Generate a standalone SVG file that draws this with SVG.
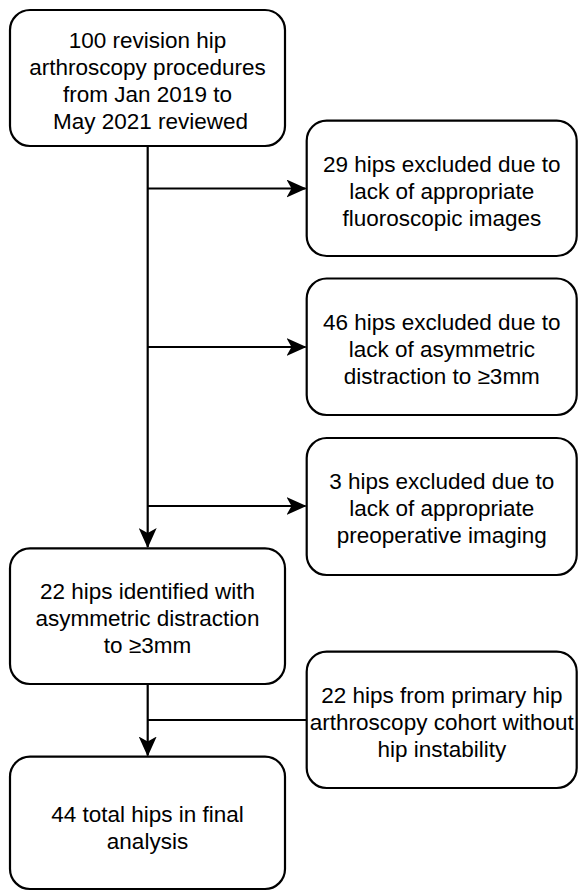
<svg xmlns="http://www.w3.org/2000/svg" width="578" height="891" viewBox="0 0 578 891">
<style>
.box{fill:#fff;stroke:#000;stroke-width:2.2}
.t{font-family:"Liberation Sans",Arial,Helvetica,sans-serif;font-size:22.5px;fill:#000;text-anchor:middle}
.c{fill:none;stroke:#000;stroke-width:2.2}
</style>
<defs>
<marker id="ah" markerUnits="userSpaceOnUse" viewBox="0 0 20 18" refX="19" refY="9" markerWidth="20" markerHeight="18" orient="auto">
<path d="M0,0 L20,9 L0,18 L5,9 Z" fill="#000"/>
</marker>
</defs>
<rect width="578" height="891" fill="#fff"/>
<g id="connectors">
<path class="c" d="M147.7,146 V547" marker-end="url(#ah)"/>
<path class="c" d="M147.7,188.5 H305.5" marker-end="url(#ah)"/>
<path class="c" d="M147.7,347 H305.5" marker-end="url(#ah)"/>
<path class="c" d="M147.7,506 H305.5" marker-end="url(#ah)"/>
<path class="c" d="M147.7,684 V755.5" marker-end="url(#ah)"/>
<path class="c" d="M306.7,720 H147.7"/>
</g>
<g id="n1">
<rect class="box" x="10" y="10" width="275" height="136" rx="20"/>
<text class="t" x="147.5" y="47.7">100 revision hip</text>
<text class="t" x="147.5" y="74.7">arthroscopy procedures</text>
<text class="t" x="147.5" y="101.7">from Jan 2019 to</text>
<text class="t" x="150.6" y="128.7">May 2021 reviewed</text>
</g>
<g id="n2">
<rect class="box" x="306.7" y="120.7" width="270" height="135.3" rx="20"/>
<text class="t" x="441.8" y="171.7">29 hips excluded due to</text>
<text class="t" x="441.8" y="198.7">lack of appropriate</text>
<text class="t" x="441.8" y="225.7">fluoroscopic images</text>
</g>
<g id="n3">
<rect class="box" x="306.7" y="278.5" width="270" height="136.5" rx="20"/>
<text class="t" x="441.8" y="329.5">46 hips excluded due to</text>
<text class="t" x="441.8" y="356.5">lack of asymmetric</text>
<text class="t" x="441.8" y="383.5">distraction to ≥3mm</text>
</g>
<g id="n4">
<rect class="box" x="306.7" y="438" width="270" height="137" rx="20"/>
<text class="t" x="441.8" y="489">3 hips excluded due to</text>
<text class="t" x="441.8" y="516">lack of appropriate</text>
<text class="t" x="441.8" y="543">preoperative imaging</text>
</g>
<g id="n5">
<rect class="box" x="10" y="548.3" width="275" height="135.7" rx="20"/>
<text class="t" x="147.5" y="598.5">22 hips identified with</text>
<text class="t" x="147.5" y="625.5">asymmetric distraction</text>
<text class="t" x="147.5" y="652.5">to ≥3mm</text>
</g>
<g id="n6">
<rect class="box" x="306.7" y="651.7" width="270" height="136.3" rx="20"/>
<text class="t" x="441.8" y="703.3">22 hips from primary hip</text>
<text class="t" x="441.8" y="730.3">arthroscopy cohort without</text>
<text class="t" x="441.8" y="757.3">hip instability</text>
</g>
<g id="n7">
<rect class="box" x="10" y="756.7" width="275" height="132.3" rx="20"/>
<text class="t" x="147.5" y="821.5">44 total hips in final</text>
<text class="t" x="147.5" y="848.5">analysis</text>
</g>
</svg>
